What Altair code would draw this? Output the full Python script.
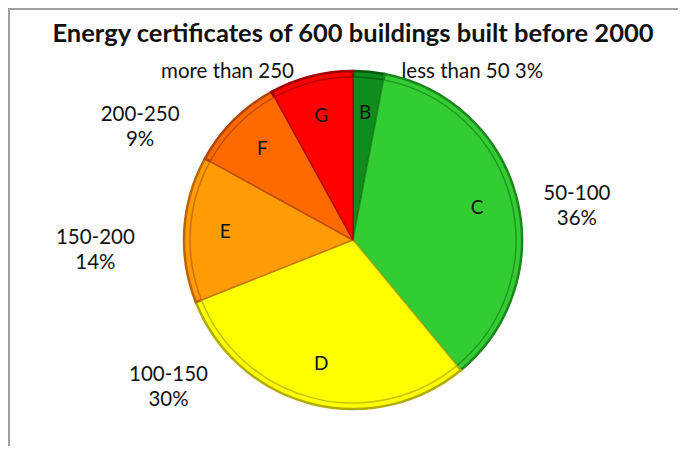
import altair as alt
import pandas as pd

# ---- data ----
grades = ["B", "C", "D", "E", "F", "G"]
ranges = ["less than 50", "50-100", "100-150", "150-200", "200-250", "more than 250"]
percents = [3, 36, 30, 14, 9, 8]
outer_text = ["less than 50 3%", "50-100\n36%", "100-150\n30%", "150-200\n14%", "200-250\n9%", "more than 250"]

fill_colors = ["#0f8c1d", "#33cc33", "#ffff00", "#ff9b05", "#ff6a00", "#ff0000"]
edge_colors = ["#04580b", "#1d861d", "#b3ad00", "#bb6600", "#b04400", "#a00000"]

df = pd.DataFrame({
    "grade": grades,
    "range": ranges,
    "pct": percents,
    "label": outer_text,
    "order": list(range(len(grades))),
})

FONT = "Lato"
R = 169

base = alt.Chart(df).transform_window(
    cum="sum(pct)", sort=[alt.SortField("order")], frame=[None, 0]
).transform_calculate(
    start="datum.cum - datum.pct",
    mid="datum.cum - datum.pct / 2",
)

theta_scale = alt.Scale(domain=[0, 100])
fill_enc = alt.Color("grade:N", scale=alt.Scale(domain=grades, range=fill_colors), legend=None)
stroke_enc = alt.Stroke("grade:N", scale=alt.Scale(domain=grades, range=edge_colors), legend=None)

outer = base.mark_arc(radius=R, strokeWidth=2.5).encode(
    theta=alt.Theta("start:Q", scale=theta_scale),
    theta2="cum:Q",
    color=fill_enc,
    stroke=stroke_enc,
)

rim = base.mark_arc(radius=R - 6, strokeWidth=1.5, strokeOpacity=0.75).encode(
    theta=alt.Theta("start:Q", scale=theta_scale),
    theta2="cum:Q",
    color=fill_enc,
    stroke=stroke_enc,
)

letters = base.mark_text(radius=128, fontSize=19, font=FONT, color="#111111").encode(
    theta=alt.Theta("mid:Q", scale=theta_scale),
    text="grade:N",
)

# per-label nudges (style) from the angle mid-point at radius 195
nudges = {
    "B": dict(dx=101, dy=26),
    "C": dict(dx=35, dy=2),
    "D": dict(dx=-136, dy=-54),
    "E": dict(dx=-63, dy=10),
    "F": dict(dx=-75, dy=13),
    "G": dict(dx=-77, dy=21),
}

label_layers = []
for g in grades:
    label_layers.append(
        base.transform_filter(alt.datum.grade == g).mark_text(
            radius=195, fontSize=20.5, font=FONT, color="#111111",
            lineBreak="\n", lineHeight=25, align="center", baseline="middle",
            **nudges[g],
        ).encode(
            theta=alt.Theta("mid:Q", scale=theta_scale),
            text="label:N",
        )
    )

frame_top = alt.Chart(df).mark_rule(color="#a0a0a0", strokeWidth=2).encode(
    x=alt.value(-45), x2=alt.value(640), y=alt.value(-39)
)
frame_left = alt.Chart(df).mark_rule(color="#a0a0a0", strokeWidth=2).encode(
    x=alt.value(-44), y=alt.value(-40), y2=alt.value(410)
)

chart = alt.layer(outer, rim, letters, *label_layers, frame_top, frame_left).properties(
    width=600,
    height=384,
    padding={"left": 45, "top": 40, "right": 25, "bottom": 14},
    autosize="none",
    title=alt.TitleParams(
        "Energy certificates of 600 buildings built before 2000",
        fontSize=25.5, font=FONT, fontWeight="bold", color="#111111",
        anchor="middle", offset=0, dy=40,
    ),
).configure_view(stroke=None)

chart.save("out.html", embed_options={"renderer": "svg", "actions": False})
